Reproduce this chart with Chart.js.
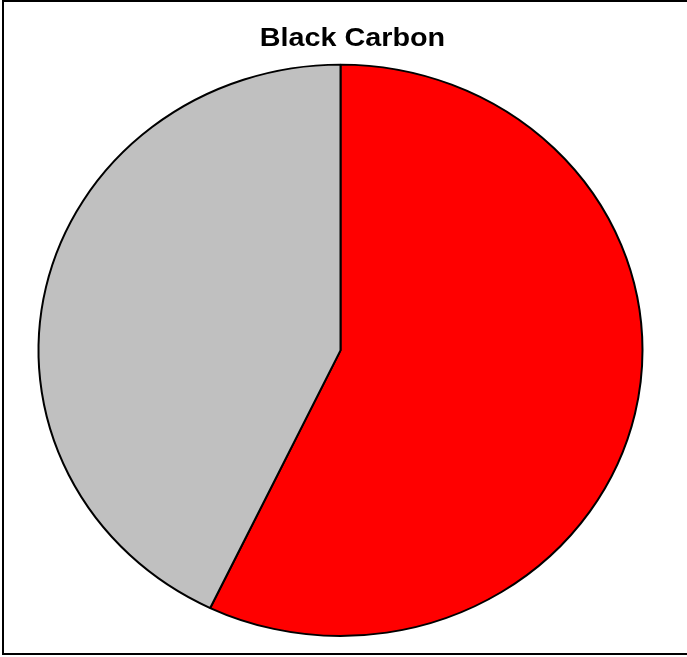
<!DOCTYPE html>
<html>
<head>
<meta charset="utf-8">
<script src="https://cdn.jsdelivr.net/npm/chart.js@4/dist/chart.umd.min.js"></script>
<style>
  html, body { margin: 0; padding: 0; background: #fff; overflow: hidden; }
  #wrap { position: relative; width: 687px; height: 657px; overflow: hidden; }
  #frame {
    position: absolute; left: 2px; top: 0; width: 1000px; height: 651px;
    border-top: 2px solid #000; border-left: 2px solid #000; border-bottom: 2px solid #000;
    box-sizing: content-box; pointer-events: none;
  }
  canvas { position: absolute; left: 0; top: 0; }
</style>
</head>
<body>
<div id="wrap">
  <canvas id="c" width="705" height="657"></canvas>
  <div id="frame"></div>
</div>
<script>
// Pie segments (percent share)
const categories = ['Share', 'Remainder'];
const shares = [57.1, 42.9];
const sliceColors = ['#FF0000', '#C0C0C0'];
const chartTitle = 'Black Carbon';

// Widen the title lettering, then squash the pie into an ellipse
// and nudge it left of the title centre
const shapePlugin = {
  id: 'shape',
  beforeDraw(chart, args, opts) {
    const ctx = chart.ctx;
    const mid = chart.width / 2;
    ctx.save();
    ctx.translate(mid, 0);
    ctx.scale(opts.titleScaleX, 1);
    ctx.translate(-mid, 0);
  },
  beforeDatasetsDraw(chart, args, opts) {
    const ctx = chart.ctx;
    ctx.restore();
    const arc = chart.getDatasetMeta(0).data[0];
    const cx = arc.x, cy = arc.y;
    ctx.save();
    ctx.translate(cx + opts.shiftX, cy);
    ctx.scale(1, opts.scaleY);
    ctx.translate(-cx, -cy);
  },
  afterDatasetsDraw(chart) {
    chart.ctx.restore();
  }
};

new Chart(document.getElementById('c'), {
  type: 'pie',
  data: {
    labels: categories,
    datasets: [{
      data: shares,
      backgroundColor: sliceColors,
      borderColor: '#000',
      borderWidth: 2
    }]
  },
  options: {
    responsive: false,
    animation: false,
    events: [],
    radius: 302,
    layout: { padding: { top: 0, bottom: 19.4, left: 0, right: 0 } },
    plugins: {
      legend: { display: false },
      tooltip: { enabled: false },
      title: {
        display: true,
        text: chartTitle,
        color: '#000',
        font: { family: '"Liberation Sans", Arial, sans-serif', size: 25, weight: 'bold', lineHeight: 1.2 },
        padding: { top: 24, bottom: 9 }
      },
      shape: { shiftX: -12, scaleY: 0.946, titleScaleX: 1.15 }
    }
  },
  plugins: [shapePlugin]
});
</script>
</body>
</html>
